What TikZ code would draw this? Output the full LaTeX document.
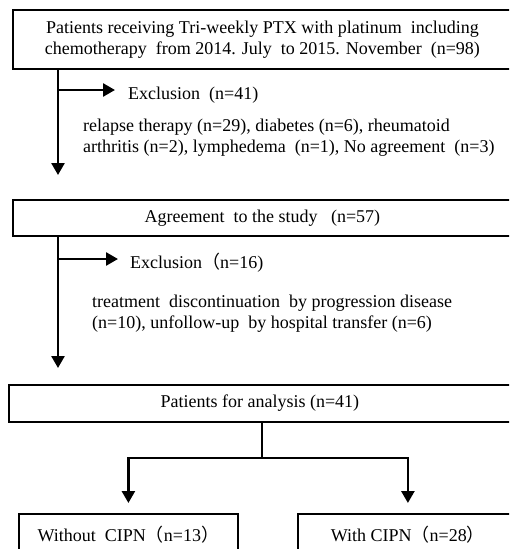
\documentclass[tikz,border=0pt]{standalone}
\usepackage{fontspec}
\setmainfont{Liberation Serif}
\newfontfamily\cjk{Noto Sans CJK JP}
\usetikzlibrary{positioning}
\usetikzlibrary{arrows.meta}
\newcommand{\lp}{{\cjk （}}
\newcommand{\rp}{{\cjk ）}}
\tikzset{
  x=1pt, y=-1pt,
  % boxes of the flow chart
  stage/.style={draw, line width=1.8pt, rectangle, inner sep=0pt, anchor=north west, align=center},
  % exclusion texts beside the arrows
  note/.style={anchor=west, align=left, inner sep=0pt},
  % thick arrows
  flow/.style={line width=2.6pt, -{Triangle[length=12pt,width=13pt]}},
}

\begin{document}
\begin{tikzpicture}[font=\fontsize{18}{21}\selectfont]
  \clip (0,0) rectangle (509,549);
  \node[stage, minimum width=499pt, minimum height=59pt] (enrol) at (12,9)
    {Patients receiving Tri-weekly PTX with platinum\ \ including\\chemotherapy\ \ from 2014. July\ \ to 2015. November\ \ (n=98)};
  \node[stage, minimum width=499pt, minimum height=36pt] (agree) at (12,199) {Agreement\ \ to the study\ \ \ (n=57)};
  \node[stage, minimum width=502pt, minimum height=37pt] (anal) at (8,384) {Patients for analysis (n=41)};
  \node[stage, minimum width=219pt, minimum height=42pt] (nocipn) at (18,513) {Without\ \ CIPN\lp n=13\rp};
  \node[stage, minimum width=220pt, minimum height=42pt] (cipn) at (297,513) {With CIPN\lp n=28\rp};

  \node[note] (excl1) at (128,95) {Exclusion\ \ (n=41)};
  \node[note] (why1) at (83,138) {relapse therapy (n=29), diabetes (n=6), rheumatoid\\arthritis (n=2), lymphedema\ \ (n=1), No agreement\ \ (n=3)};
  \node[note] (excl2) at (130,263) {Exclusion\lp n=16)};
  \node[note] (why2) at (92,314) {treatment\ \ discontinuation\ \ by progression disease\\(n=10), unfollow-up\ \ by hospital transfer (n=6)};

  \coordinate (drop1) at (58,175);
  \coordinate (fork1) at (58,90);
  \coordinate (drop2) at (58,368);
  \coordinate (fork2) at (58,259);
  \coordinate (split) at (262,458);

  \draw[flow] (enrol.south -| drop1) -- (drop1);
  \draw[flow] (fork1) -- ([xshift=-13pt]excl1.west |- fork1);
  \draw[flow] (agree.south -| drop2) -- (drop2);
  \draw[flow] (fork2) -- ([xshift=-12pt]excl2.west |- fork2);

  \draw[line width=2.6pt] (anal.south -| split) -- (split);
  \draw[flow, shorten >=10pt] (split) -| (nocipn.north);
  \draw[flow, shorten >=10pt] (split) -| (cipn.north);
\end{tikzpicture}
\end{document}
